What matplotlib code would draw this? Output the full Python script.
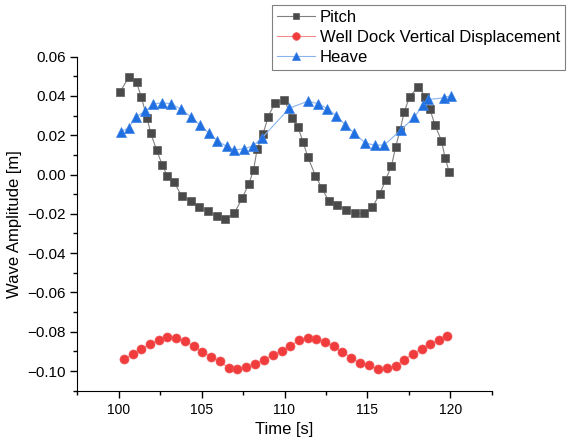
import numpy as np
import matplotlib
matplotlib.use("Agg")
import matplotlib.pyplot as plt
from matplotlib.ticker import MultipleLocator, FuncFormatter

plt.rcParams['font.family'] = ['Liberation Sans', 'DejaVu Sans']

# pitch
t_pitch = [100.06, 100.60, 101.07, 101.36, 101.71, 101.93, 102.28, 102.62, 102.93, 103.34,
           103.81, 104.33, 104.85, 105.37, 105.90, 106.43, 106.98, 107.45, 107.85, 108.13,
           108.35, 108.70, 109.02, 109.41, 109.99, 110.48, 110.82, 111.11, 111.42, 111.87,
           112.25, 112.67, 113.17, 113.72, 114.24, 114.78, 115.30, 115.75, 116.10, 116.45,
           116.71, 116.98, 117.23, 117.55, 118.08, 118.50, 118.78, 119.08, 119.47, 119.69,
           119.94]
pitch = [0.0419, 0.0494, 0.0470, 0.0393, 0.0286, 0.0209, 0.0125, 0.0049, -0.0007, -0.0040,
         -0.0111, -0.0133, -0.0167, -0.0184, -0.0213, -0.0228, -0.0195, -0.0120, -0.0047, 0.0022,
         0.0130, 0.0206, 0.0295, 0.0363, 0.0378, 0.0289, 0.0240, 0.0167, 0.0087, -0.0007,
         -0.0068, -0.0135, -0.0157, -0.0179, -0.0196, -0.0198, -0.0166, -0.0100, -0.0027, 0.0042,
         0.0141, 0.0228, 0.0320, 0.0396, 0.0448, 0.0396, 0.0332, 0.0252, 0.0173, 0.0086,
         0.0013]

# well dock vertical displacement
t_dock = [100.30, 100.83, 101.35, 101.87, 102.40, 102.92, 103.44, 103.99, 104.51, 105.03,
          105.58, 106.10, 106.65, 107.15, 107.69, 108.22, 108.76, 109.29, 109.82, 110.33,
          110.88, 111.40, 111.92, 112.45, 112.97, 113.49, 114.04, 114.56, 115.09, 115.63,
          116.18, 116.70, 117.22, 117.75, 118.27, 118.81, 119.34, 119.80]
dock = [-0.0941, -0.0915, -0.0890, -0.0861, -0.0843, -0.0827, -0.0834, -0.0849, -0.0871, -0.0901,
        -0.0927, -0.0951, -0.0986, -0.0990, -0.0978, -0.0966, -0.0942, -0.0917, -0.0898, -0.0873,
        -0.0844, -0.0834, -0.0835, -0.0851, -0.0875, -0.0903, -0.0932, -0.0959, -0.0971, -0.0991,
        -0.0986, -0.0975, -0.0942, -0.0914, -0.0886, -0.0861, -0.0843, -0.0822]

# heave
t_heave = [100.12, 100.59, 101.03, 101.61, 102.07, 102.62, 103.14, 103.75, 104.37, 104.89,
           105.44, 105.94, 106.51, 106.97, 107.55, 108.11, 108.64, 110.30, 111.43, 112.04,
           112.59, 113.13, 113.67, 114.19, 114.88, 115.44, 116.02, 117.05, 117.84, 118.37,
           118.67, 119.61, 120.05]
heave = [0.0219, 0.0236, 0.0295, 0.0321, 0.0358, 0.0366, 0.0360, 0.0333, 0.0292, 0.0252,
         0.0211, 0.0172, 0.0143, 0.0126, 0.0131, 0.0146, 0.0186, 0.0338, 0.0374, 0.0360,
         0.0336, 0.0298, 0.0253, 0.0212, 0.0160, 0.0150, 0.0150, 0.0229, 0.0292, 0.0356,
         0.0382, 0.0390, 0.0402]


def yfmt(v, pos):
    s = '%.2f' % (round(v, 4) + 0.0)
    if s == '-0.00':
        s = '0.00'
    return s.replace('-', '\u2212')


fig = plt.figure(figsize=(5.69, 4.46), dpi=100)
ax = fig.add_axes([0.136, 0.124, 0.728, 0.749])

ax.plot(t_pitch, pitch, '-', color='#808080', linewidth=0.8,
        marker='s', markersize=5.8, markerfacecolor='#4a4a4a', markeredgecolor='#5a5a5a',
        markeredgewidth=0.5, label='Pitch')
ax.plot(t_dock, dock, '-', color='#f08a8a', linewidth=0.8,
        marker='o', markersize=6.5, markerfacecolor='#f03c3c', markeredgecolor='#f25555',
        markeredgewidth=0.5, label='Well Dock Vertical Displacement')
ax.plot(t_heave, heave, '-', color='#8ab4ee', linewidth=0.8,
        marker='^', markersize=7, markerfacecolor='#1f6fe0', markeredgecolor='#3a80e4',
        markeredgewidth=0.5, label='Heave')

ax.set_xlim(97.5, 122.5)
ax.set_ylim(-0.11, 0.06)
ax.xaxis.set_major_locator(MultipleLocator(5))
ax.xaxis.set_minor_locator(MultipleLocator(2.5))
ax.yaxis.set_major_locator(MultipleLocator(0.02))
ax.yaxis.set_minor_locator(MultipleLocator(0.01))
ax.yaxis.set_major_formatter(FuncFormatter(yfmt))
ax.tick_params(which='major', direction='out', length=5, width=1)
ax.tick_params(which='minor', direction='out', length=3, width=1)
ax.tick_params(axis='x', labelsize=10)
ax.tick_params(axis='y', labelsize=11)
ax.spines['top'].set_visible(False)
ax.spines['right'].set_visible(False)

ax.set_xlabel('Time [s]', fontsize=12)
ax.set_ylabel('Wave Amplitude [m]', fontsize=12)

leg = ax.legend(loc='upper left', bbox_to_anchor=(271.7 / 569, 1 - 5 / 446),
                bbox_transform=fig.transFigure, borderaxespad=0, fontsize=12,
                fancybox=False, framealpha=1, edgecolor='#808080',
                handlelength=2.3, handletextpad=0.3, labelspacing=0.3,
                borderpad=0.3, markerscale=0.85)
leg.get_frame().set_linewidth(0.8)

fig.savefig('out.png', dpi=100)
